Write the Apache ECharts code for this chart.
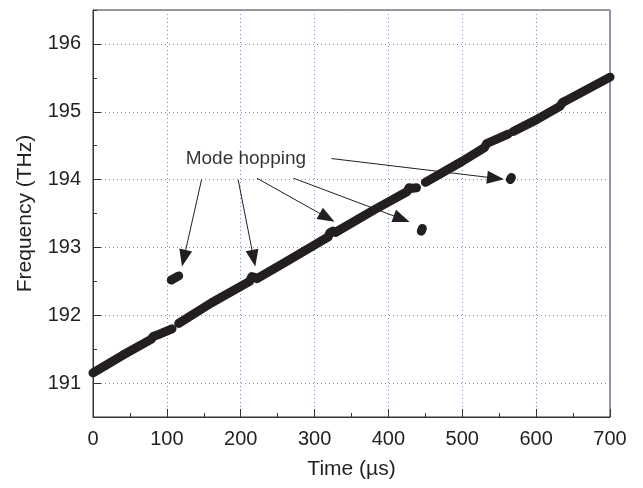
<!DOCTYPE html>
<html>
<head>
<meta charset="utf-8">
<script src="https://cdn.jsdelivr.net/npm/echarts@6/dist/echarts.min.js"></script>
<style>
  html, body { margin: 0; padding: 0; background: #fff; }
  #chart { width: 643px; height: 488px; }
</style>
</head>
<body>
<div id="chart"></div>
<script>
// main frequency trace, split where the laser hops (time in us, freq in THz)
var trace1 = [[0, 191.15], [40, 191.41], [78, 191.64], [82, 191.69], [90, 191.72], [107, 191.80]];
var trace2 = [[116, 191.88], [160, 192.18], [212, 192.50], [215, 192.57], [219, 192.56], [222, 192.54],
  [260, 192.78], [318, 193.15], [321, 193.22], [325, 193.24], [328, 193.22], [380, 193.55],
  [425, 193.82], [428, 193.88], [432, 193.87], [438, 193.88]];
var trace3 = [[450, 193.96], [500, 194.27], [530, 194.47], [533, 194.53], [537, 194.55], [562, 194.67]];
var trace4 = [[569, 194.71], [600, 194.88], [632, 195.08], [636, 195.14], [640, 195.16], [700, 195.51]];

// isolated mode-hop points
var hop1 = [[106, 192.52], [116, 192.58]];
var hop2 = [[444.5, 193.24], [446, 193.28]];
var hop3 = [[565, 194.00], [566.5, 194.03]];

// annotation
var noteText = 'Mode hopping';
var notePos = [207, 194.31];
var arrowFrom = [[147, 194.0], [196.5, 194.0], [222, 194.02], [271.5, 194.02], [323, 194.31]];
var arrowTo = [[123, 192.84], [217.5, 192.84], [317, 193.44], [418, 193.42], [545, 194.02]];

var xRange = [0, 700, 100];
var yRange = [190.5, 196.5];

var chart = echarts.init(document.getElementById('chart'));

var lineColor = '#231f20';
var font = 'Liberation Sans, Arial, sans-serif';
var traces = [trace1, trace2, trace3, trace4, hop1, hop2, hop3];

var series = traces.map(function (d) {
  return {
    type: 'line',
    data: d,
    showSymbol: false,
    silent: true,
    lineStyle: { color: lineColor, width: 9, cap: 'round', join: 'round' },
    z: 3
  };
});

var arrows = arrowFrom.map(function (p, i) {
  return [{ coord: p }, { coord: arrowTo[i] }];
});

series.push({
  type: 'scatter',
  data: [notePos],
  symbolSize: 0,
  silent: true,
  label: {
    show: true,
    position: 'inside',
    formatter: noteText,
    color: '#000',
    fontSize: 19,
    fontFamily: font
  },
  markLine: {
    silent: true,
    symbol: ['none', 'triangle'],
    symbolSize: [13, 17],
    label: { show: false },
    lineStyle: { color: lineColor, width: 1, type: 'solid' },
    data: arrows
  },
  z: 4
});

var gridLine = { show: true, lineStyle: { color: '#6f94d0', type: [1, 3], width: 1 } };

var option = {
  animation: false,
  grid: {
    left: 93, right: 33, top: 10, bottom: 71,
    show: true, borderColor: '#333', borderWidth: 1
  },
  xAxis: {
    type: 'value',
    min: xRange[0], max: xRange[1], interval: xRange[2],
    name: 'Time (\u00b5s)',
    nameLocation: 'middle',
    nameGap: 42,
    nameTextStyle: { color: lineColor, fontSize: 21, fontFamily: font },
    axisLine: { lineStyle: { color: '#333' } },
    axisTick: { inside: true, length: 8, lineStyle: { color: '#333' } },
    minorTick: { show: true, splitNumber: 2, length: 4, lineStyle: { color: '#333' } },
    axisLabel: { color: lineColor, fontSize: 20, margin: 12, fontFamily: font },
    splitLine: gridLine
  },
  yAxis: [{
    type: 'value',
    min: yRange[0], max: yRange[1], splitNumber: 6,
    name: 'Frequency (THz)',
    nameLocation: 'middle',
    nameGap: 57,
    nameTextStyle: { color: lineColor, fontSize: 21, fontFamily: font },
    axisLine: { show: true, lineStyle: { color: '#333' } },
    axisTick: { show: true, inside: true, length: 8, lineStyle: { color: '#333' } },
    axisLabel: {
      color: lineColor, fontSize: 20, margin: 12, fontFamily: font,
      showMinLabel: false, showMaxLabel: false
    },
    splitLine: gridLine
  }, {
    // half-unit ticks only
    type: 'value',
    position: 'left',
    min: yRange[0], max: yRange[1], interval: 0.5,
    axisLine: { show: false },
    axisTick: { show: true, inside: true, length: 4, lineStyle: { color: '#333' } },
    axisLabel: { show: false },
    splitLine: { show: false }
  }],
  series: series
};

chart.setOption(option);
</script>
</body>
</html>
